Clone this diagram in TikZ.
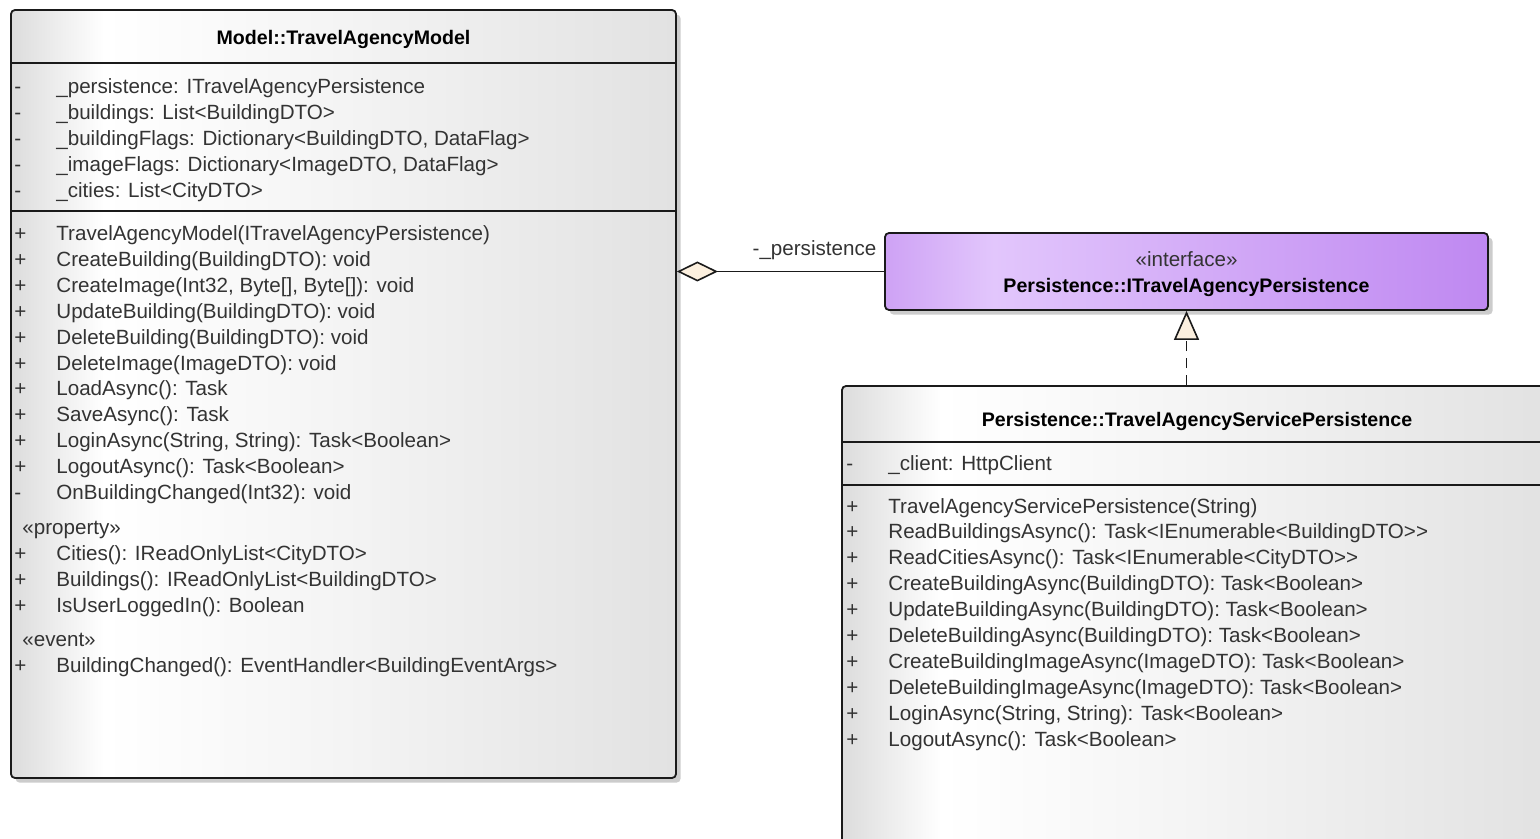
\documentclass[tikz,border=0pt]{standalone}
\usepackage{fontspec}
\setmainfont{Liberation Sans}
\usetikzlibrary{arrows.meta,shadows,fit}
\definecolor{linecol}{HTML}{1A1A1A}
\definecolor{textcol}{HTML}{333333}
\definecolor{tipfill}{HTML}{FCF0DF}
\definecolor{clsedge}{HTML}{DCDCDC}
\definecolor{clsmid}{HTML}{F4F4F4}
\definecolor{clsright}{HTML}{E2E2E2}
\definecolor{ifaceedge}{HTML}{CEA2F5}
\definecolor{ifacelight}{HTML}{E2C6FC}
\definecolor{ifaceright}{HTML}{BF88F1}
\pgfdeclarehorizontalshading{clsshade}{100bp}{color(0bp)=(clsedge); color(25bp)=(clsedge); color(32bp)=(white); color(50bp)=(clsmid); color(75bp)=(clsright); color(100bp)=(clsright)}
\pgfdeclarehorizontalshading{ifaceshade}{100bp}{color(0bp)=(ifaceedge); color(25bp)=(ifaceedge); color(34bp)=(ifacelight); color(75bp)=(ifaceright); color(100bp)=(ifaceright)}
\newcommand\visib[1]{\makebox[21pt][l]{#1}}

\begin{document}
\begin{tikzpicture}[x=0.5pt, y=-0.5pt,
    classbox/.style={draw=linecol, line width=0.9pt, rounded corners=2pt, inner sep=0pt, shading=clsshade,
      drop shadow={shadow xshift=2.3pt, shadow yshift=-2.3pt, fill=black!20, opacity=1}},
    ifacebox/.style={classbox, shading=ifaceshade},
    clstitle/.style={anchor=base, inner sep=0pt, font=\bfseries\fontsize{9.8}{12}\selectfont},
    members/.style={anchor=base west, align=left, inner sep=0pt, text=textcol, font=\fontsize{10.3}{12.95}\selectfont},
    stereo/.style={anchor=base, inner sep=0pt, text=textcol, font=\fontsize{10.3}{12.95}\selectfont},
    compline/.style={draw=linecol, line width=0.9pt},
    aggregate/.style={draw=linecol, line width=0.8pt, -{Diamond[length=20.5pt, width=10pt, fill=tipfill]}},
    realize/.style={draw=linecol, line width=0.8pt, dash pattern=on 5pt off 3.5pt, -{Triangle[length=14.5pt, width=12.5pt, fill=tipfill]}}]
    \useasboundingbox (0,0) rectangle (1540,839);
    \clip (0,0) rectangle (1540,839);

    % model class (member blocks are placed by their last baseline)
    \node[classbox, fit={(11,10) (676,778)}] (model) {};
    \draw[compline] (model.west |- 0,63) -- (model.east |- 0,63);
    \draw[compline] (model.west |- 0,211) -- (model.east |- 0,211);
    \node[clstitle] (modeltitle) at (model.north |- 0,45) {Model::TravelAgencyModel};
    \node[members] (modelattrs) at (14,197.1) {\visib{-}\_persistence: ITravelAgencyPersistence\\
      \visib{-}\_buildings: List<BuildingDTO>\\
      \visib{-}\_buildingFlags: Dictionary<BuildingDTO, DataFlag>\\
      \visib{-}\_imageFlags: Dictionary<ImageDTO, DataFlag>\\
      \visib{-}\_cities: List<CityDTO>};
    \node[members] (modelops) at (14,672.3) {\visib{+}TravelAgencyModel(ITravelAgencyPersistence)\\
      \visib{+}CreateBuilding(BuildingDTO): void\\
      \visib{+}CreateImage(Int32, Byte[], Byte[]): void\\
      \visib{+}UpdateBuilding(BuildingDTO): void\\
      \visib{+}DeleteBuilding(BuildingDTO): void\\
      \visib{+}DeleteImage(ImageDTO): void\\
      \visib{+}LoadAsync(): Task\\
      \visib{+}SaveAsync(): Task\\
      \visib{+}LoginAsync(String, String): Task<Boolean>\\
      \visib{+}LogoutAsync(): Task<Boolean>\\
      \visib{-}OnBuildingChanged(Int32): void\\[4.5pt]
      \hspace*{4pt}«property»\\
      \visib{+}Cities(): IReadOnlyList<CityDTO>\\
      \visib{+}Buildings(): IReadOnlyList<BuildingDTO>\\
      \visib{+}IsUserLoggedIn(): Boolean\\[4.2pt]
      \hspace*{4pt}«event»\\
      \visib{+}BuildingChanged(): EventHandler<BuildingEventArgs>};

    % interface
    \node[ifacebox, fit={(885,233) (1488,310)}] (iface) {};
    \node[stereo] (ifacestereo) at (iface.north |- 0,267) {«interface»};
    \node[clstitle] (ifacetitle) at (iface.north |- 0,293) {Persistence::ITravelAgencyPersistence};

    % service class
    \node[classbox, fit={(842,386) (1552,870)}] (svc) {};
    \draw[compline] (svc.west |- 0,442) -- (svc.east |- 0,442);
    \draw[compline] (svc.west |- 0,485) -- (svc.east |- 0,485);
    \node[clstitle] (svctitle) at (svc.north |- 0,426) {Persistence::TravelAgencyServicePersistence};
    \node[members] (svcattrs) at (846,470) {\visib{-}\_client: HttpClient};
    \node[members] (svcops) at (846,746.1) {\visib{+}TravelAgencyServicePersistence(String)\\
      \visib{+}ReadBuildingsAsync(): Task<IEnumerable<BuildingDTO>{}>\\
      \visib{+}ReadCitiesAsync(): Task<IEnumerable<CityDTO>{}>\\
      \visib{+}CreateBuildingAsync(BuildingDTO): Task<Boolean>\\
      \visib{+}UpdateBuildingAsync(BuildingDTO): Task<Boolean>\\
      \visib{+}DeleteBuildingAsync(BuildingDTO): Task<Boolean>\\
      \visib{+}CreateBuildingImageAsync(ImageDTO): Task<Boolean>\\
      \visib{+}DeleteBuildingImageAsync(ImageDTO): Task<Boolean>\\
      \visib{+}LoginAsync(String, String): Task<Boolean>\\
      \visib{+}LogoutAsync(): Task<Boolean>};

    % connectors
    \draw[aggregate] (iface.west) -- (model.east |- iface.west)
      node[pos=0, anchor=base east, xshift=-3.5pt, yshift=8pt, inner sep=0pt, text=textcol, font=\fontsize{10.3}{12}\selectfont] (persistlbl) {-\_persistence};
    \draw[realize] (iface.south |- svc.north) -- (iface.south);
\end{tikzpicture}
\end{document}
